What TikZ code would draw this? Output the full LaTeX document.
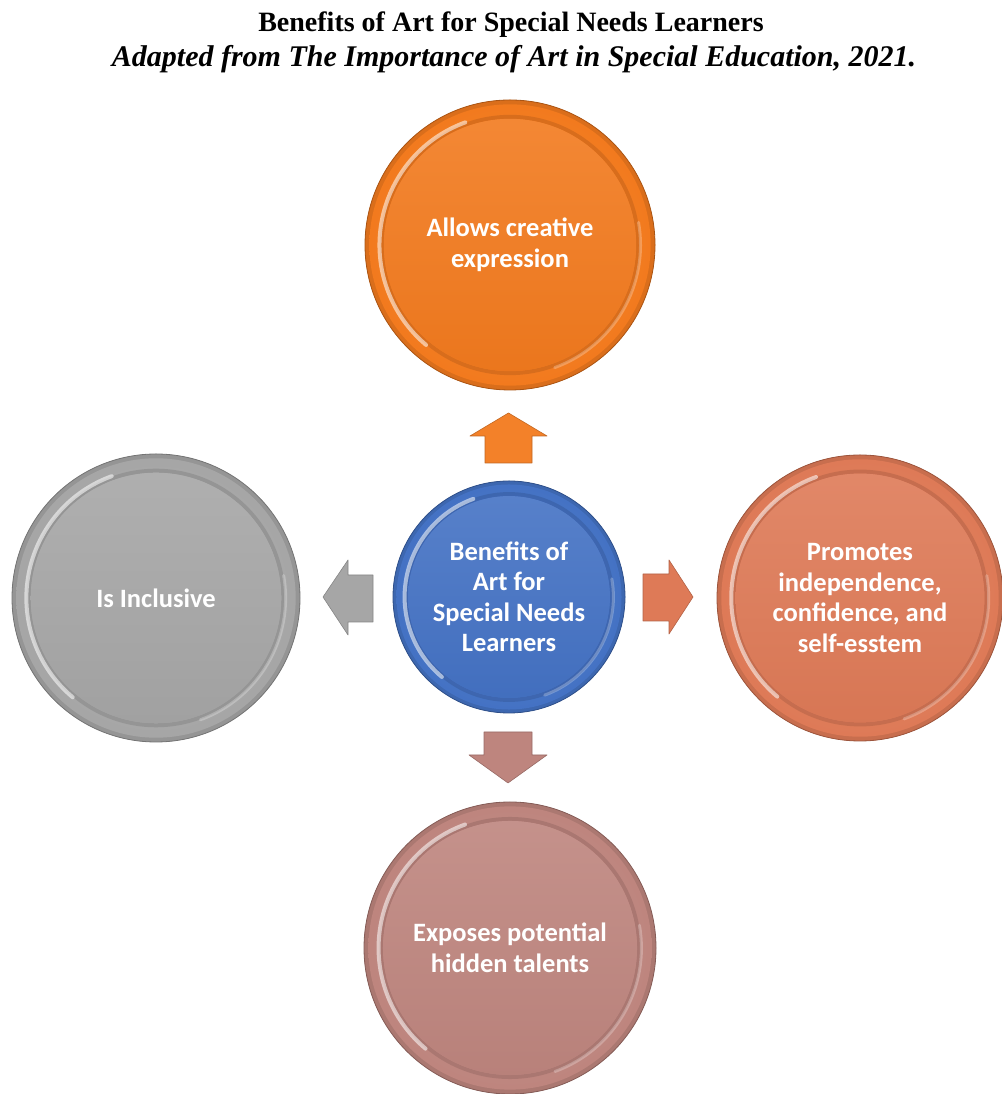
\documentclass[tikz,border=0pt]{standalone}
\usepackage{fontspec}
\setmainfont{Liberation Serif}
\newfontfamily\bubfont{Carlito}
\definecolor{cOrange}{HTML}{F27A1E}
\definecolor{cTerra}{HTML}{DE7A57}
\definecolor{cRose}{HTML}{BE857E}
\definecolor{cGray}{HTML}{A6A6A6}
\definecolor{cBlue}{HTML}{4472C4}
\tikzset{
  bubble/.style n args={2}{circle, minimum size=2*#2, inner sep=0pt, fill=#1,
    draw=#1!70!black, line width=0.8pt, text=white, align=center,
    font=\bubfont\bfseries\fontsize{26.5}{30.5}\selectfont,
    path picture={
      \coordinate (pc) at (path picture bounding box.center);
      \fill[#1!90!black] (pc) circle[radius=#2];
      \shade[inner color=#1!90!white, outer color=#1] (pc) circle[radius=0.97*#2];
      \draw[#1!65!black, opacity=.3, line width=4pt] (pc) circle[radius=0.87*#2+2pt];
      \shade[top color=#1!90!white, bottom color=#1!97!black] (pc) circle[radius=0.87*#2];
      \draw[white, opacity=.55, line width=4pt, line cap=round]
        ([shift={(110:0.9*#2)}]pc) arc[start angle=110, end angle=230, radius=0.9*#2];
      \draw[white, opacity=.25, line width=3pt, line cap=round]
        ([shift={(-70:0.9*#2)}]pc) arc[start angle=-70, end angle=10, radius=0.9*#2];
    }},
  blockarrow/.style={fill=#1, draw=#1!80!black, line width=0.6pt, line join=round}
}
\begin{document}
\begin{tikzpicture}[x=1pt,y=1pt]
\useasboundingbox (0,0) rectangle (1001,1094);
% title
\node[font=\fontsize{28}{32}\selectfont\bfseries, anchor=base] (title) at (511,1062)
  {Benefits of Art for Special Needs Learners};
\node[font=\fontsize{30}{34}\selectfont\bfseries\itshape, anchor=base] (sub) at (514,1027)
  {Adapted from The Importance of Art in Special Education, 2021.};
% bubbles
\node[bubble={cOrange}{145pt}] (top) at (510,849) {Allows creative\\expression};
\node[bubble={cGray}{144pt}] (left) at (156,496) {Is Inclusive};
\node[bubble={cTerra}{143pt}] (right) at (860,496) {Promotes\\independence,\\confidence, and\\self-esstem};
\node[bubble={cRose}{146pt}] (bottom) at (510,146) {Exposes potential\\hidden talents};
\node[bubble={cBlue}{116pt}] (center) at (509,497) {Benefits of\\Art for\\Special Needs\\Learners};
% arrows
\draw[blockarrow=cOrange!95!white] (485,631)--(532,631)--(532,658)--(547,658)--(508.5,681)--(470,658)--(485,658)--cycle;
\draw[blockarrow=cGray] (373,519)--(348,519)--(348,534)--(323,497)--(348,459)--(348,472)--(373,472)--cycle;
\draw[blockarrow=cTerra] (643,520)--(669,520)--(669,534)--(693,497)--(669,460)--(669,473)--(643,473)--cycle;
\draw[blockarrow=cRose] (484,362)--(532,362)--(532,339)--(547,339)--(508,311)--(469,339)--(484,339)--cycle;
\end{tikzpicture}
\end{document}
